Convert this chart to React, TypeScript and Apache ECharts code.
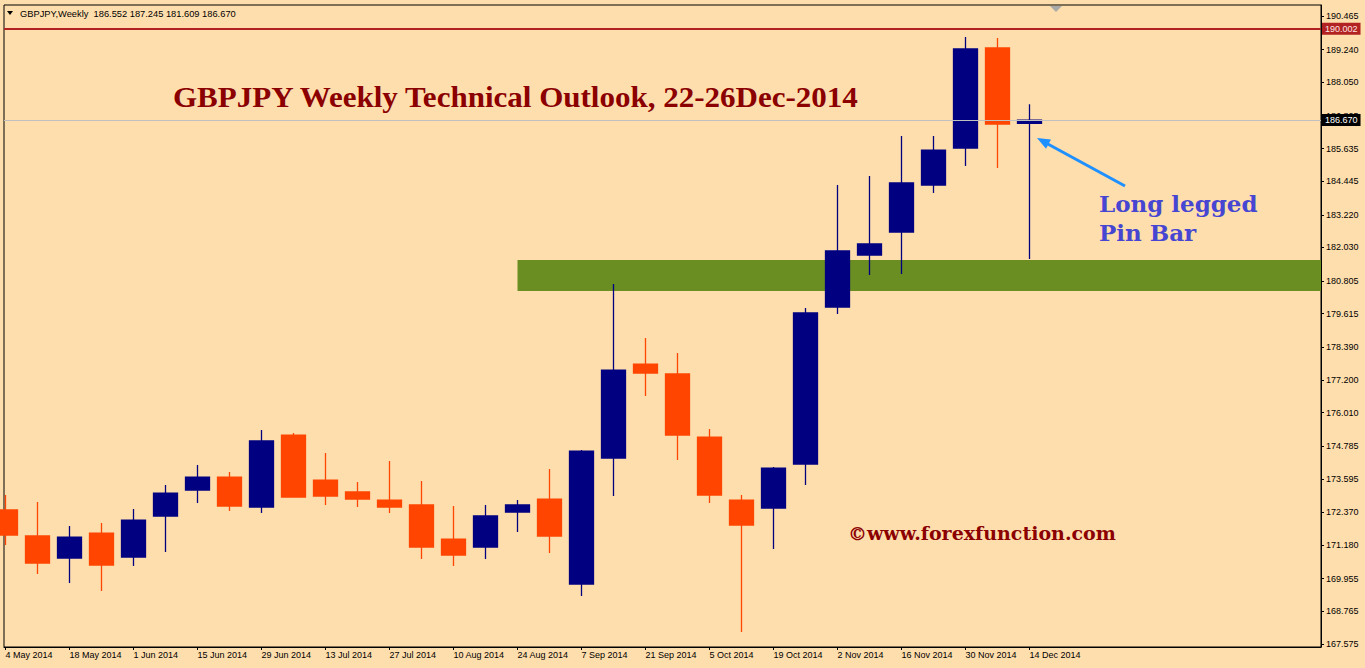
import React, { useEffect, useRef } from "react";
import * as echarts from "echarts";

// Weekly candles, GBPJPY (week start dates)
const weeks = [
  "4 May 2014", "11 May 2014", "18 May 2014", "25 May 2014", "1 Jun 2014", "8 Jun 2014",
  "15 Jun 2014", "22 Jun 2014", "29 Jun 2014", "6 Jul 2014", "13 Jul 2014", "20 Jul 2014",
  "27 Jul 2014", "3 Aug 2014", "10 Aug 2014", "17 Aug 2014", "24 Aug 2014", "31 Aug 2014",
  "7 Sep 2014", "14 Sep 2014", "21 Sep 2014", "28 Sep 2014", "5 Oct 2014", "12 Oct 2014",
  "19 Oct 2014", "26 Oct 2014", "2 Nov 2014", "9 Nov 2014", "16 Nov 2014", "23 Nov 2014",
  "30 Nov 2014", "7 Dec 2014", "14 Dec 2014",
];
const opens = [
  172.459, 171.511, 170.709, 171.620, 170.745, 172.240, 173.187, 173.661, 172.568, 175.192,
  173.552, 173.115, 172.823, 172.641, 171.401, 171.110, 172.386, 172.859, 169.761, 174.354,
  177.780, 177.416, 175.119, 172.823, 172.531, 174.135, 179.858, 181.753, 182.592, 184.305,
  185.653, 189.299, 186.552,
];
const closes = [
  171.548, 170.527, 171.474, 170.454, 172.094, 173.078, 173.661, 172.604, 174.974, 172.932,
  172.969, 172.859, 172.568, 171.110, 170.818, 172.240, 172.641, 171.511, 174.609, 177.561,
  177.452, 175.192, 173.005, 171.912, 173.989, 179.639, 181.899, 182.154, 184.378, 185.580,
  189.262, 186.528, 186.670,
];
const lows = [
  171.183, 170.126, 169.798, 169.506, 170.417, 170.928, 172.714, 172.422, 172.349, 172.915,
  172.641, 172.568, 172.349, 170.673, 170.417, 170.673, 171.657, 170.891, 169.324, 172.969,
  176.614, 174.281, 172.714, 168.012, 171.037, 173.370, 179.603, 181.024, 181.061, 184.013,
  184.997, 184.924, 181.609,
];
const highs = [
  173.006, 172.750, 171.875, 171.985, 172.495, 173.370, 174.099, 173.844, 175.375, 175.265,
  174.536, 173.479, 174.245, 173.516, 172.604, 172.641, 172.823, 173.953, 174.646, 180.696,
  178.728, 178.181, 175.411, 173.006, 174.026, 179.821, 184.305, 184.633, 186.091, 186.091,
  189.699, 189.663, 187.245,
];
const yTicks = [
  190.465, 189.24, 188.05, 186.825, 185.635, 184.445, 183.22, 182.03, 180.805, 179.615,
  178.39, 177.2, 176.01, 174.785, 173.595, 172.37, 171.18, 169.955, 168.765, 167.575,
];
const resistanceLevel = 190.002;
const lastClose = 186.67;
const zoneFromWeek = 16;
const zoneLow = 180.441;
const zoneHigh = 181.571;
const headerText = "GBPJPY,Weekly  186.552 187.245 181.609 186.670";
const titleText = "GBPJPY Weekly Technical Outlook, 22-26Dec-2014";
const noteText = "Long legged\nPin Bar";
const copyrightText = "©www.forexfunction.com";

export default function App() {
  const ref = useRef<HTMLDivElement>(null);
  useEffect(() => {
    if (!ref.current) return;
    const chart = echarts.init(ref.current, null, { renderer: "svg" });
    const W = 1365;
    const gridLeft = 4;
    const gridRight = 44;
    const slotPx = 32;
    const xMin = -0.047;
    const xMax = xMin + (W - gridLeft - gridRight) / slotPx;
    const candleData = weeks.map((_, i) => [i, opens[i], closes[i], lows[i], highs[i]]);
    const xTickValues = weeks.map((_, i) => i).filter((i) => i % 2 === 0);
    const axisFont = "Liberation Sans";

    const priceTag = (value: number, bg: string, fg: string) => ({
      show: true,
      position: "end",
      distance: 1,
      formatter: value.toFixed(3),
      backgroundColor: bg,
      color: fg,
      padding: [2, 3, 1, 3],
      fontSize: 9,
      fontFamily: axisFont,
    });

    chart.setOption({
      animation: false,
      backgroundColor: "#FFDEAD",
      grid: {
        left: gridLeft,
        right: gridRight,
        top: 5,
        bottom: 21,
        show: true,
        borderColor: "#000",
        borderWidth: 1,
        backgroundColor: "transparent",
        containLabel: false,
        outerBoundsMode: "none",
      },
      xAxis: {
        type: "value",
        min: xMin,
        max: xMax,
        splitLine: { show: false },
        axisLine: { show: true, lineStyle: { color: "#000", width: 1 } },
        axisTick: { show: true, length: 3, customValues: xTickValues, lineStyle: { color: "#000" } },
        axisLabel: {
          customValues: xTickValues,
          formatter: (v: number) => weeks[Math.round(v)] ?? "",
          align: "left",
          margin: 3,
          color: "#000",
          fontSize: 9,
          fontFamily: axisFont,
          showMinLabel: true,
          showMaxLabel: true,
        },
      },
      yAxis: {
        type: "value",
        position: "right",
        min: 167.466,
        max: 190.866,
        scale: true,
        splitLine: { show: false },
        axisLine: { show: true, onZero: false, lineStyle: { color: "#000", width: 1 } },
        axisTick: { show: true, length: 3, customValues: yTicks, lineStyle: { color: "#000" } },
        axisLabel: {
          customValues: yTicks,
          formatter: (v: number) => v.toFixed(3),
          margin: 5,
          color: "#000",
          fontSize: 9,
          fontFamily: axisFont,
          showMinLabel: true,
          showMaxLabel: true,
        },
      },
      series: [
        {
          type: "line",
          data: [],
          z: 1,
          silent: true,
          markArea: {
            silent: true,
            itemStyle: { color: "#6B8E23", opacity: 1 },
            data: [[{ coord: [zoneFromWeek, zoneHigh] }, { coord: [xMax, zoneLow] }]],
          },
          markLine: {
            silent: true,
            symbol: "none",
            precision: 3,
            data: [
              {
                yAxis: resistanceLevel,
                lineStyle: { color: "#B22222", width: 2, type: "solid" },
                label: priceTag(resistanceLevel, "#B22222", "#FFE4E1"),
              },
              {
                yAxis: lastClose,
                lineStyle: { color: "#C0C0C0", width: 1, type: "solid" },
                label: priceTag(lastClose, "#000", "#FFF"),
              },
            ],
          },
        },
        {
          type: "candlestick",
          z: 3,
          clip: true,
          barWidth: 25,
          encode: { x: 0, y: [1, 2, 3, 4] },
          data: candleData,
          itemStyle: {
            color: "#000080",
            color0: "#FF4500",
            borderColor: "#000080",
            borderColor0: "#FF4500",
            borderWidth: 1.3,
          },
        },
      ],
      graphic: [
        {
          type: "polygon",
          shape: { points: [[7, 11], [13, 11], [10, 15]] },
          style: { fill: "#000" },
          z: 10,
        },
        {
          type: "text",
          x: 20,
          y: 14,
          z: 10,
          style: {
            text: headerText,
            fill: "#000",
            font: `9.3px "${axisFont}"`,
            textVerticalAlign: "middle",
          },
        },
        {
          type: "polygon",
          shape: { points: [[1050, 6], [1062, 6], [1056, 12]] },
          style: { fill: "#A9A9A9" },
          z: 10,
        },
        {
          type: "text",
          x: 173,
          y: 97,
          scaleX: 1.07,
          z: 10,
          style: {
            text: titleText,
            fill: "#8B0000",
            font: 'bold 29px "Liberation Serif"',
            textVerticalAlign: "middle",
          },
        },
        {
          type: "text",
          x: 1099,
          y: 189,
          z: 10,
          style: {
            text: noteText,
            fill: "#4646D2",
            font: 'bold 23px "DejaVu Serif"',
            lineHeight: 29,
            textVerticalAlign: "top",
          },
        },
        {
          type: "text",
          x: 848,
          y: 533,
          z: 10,
          style: {
            text: copyrightText,
            fill: "#8B0000",
            font: 'bold 19px "DejaVu Serif"',
            textVerticalAlign: "middle",
          },
        },
        {
          type: "line",
          z: 10,
          shape: { x1: 1125, y1: 186, x2: 1046, y2: 143 },
          style: { stroke: "#1E90FF", lineWidth: 3 },
        },
        {
          type: "polygon",
          z: 10,
          shape: { points: [[1037, 138], [1051, 139.5], [1046, 148.8]] },
          style: { fill: "#1E90FF" },
        },
      ],
    });
    return () => chart.dispose();
  }, []);
  return (
    <div
      ref={ref}
      style={{ position: "fixed", left: 0, top: 0, width: 1365, height: 668 }}
    />
  );
}
